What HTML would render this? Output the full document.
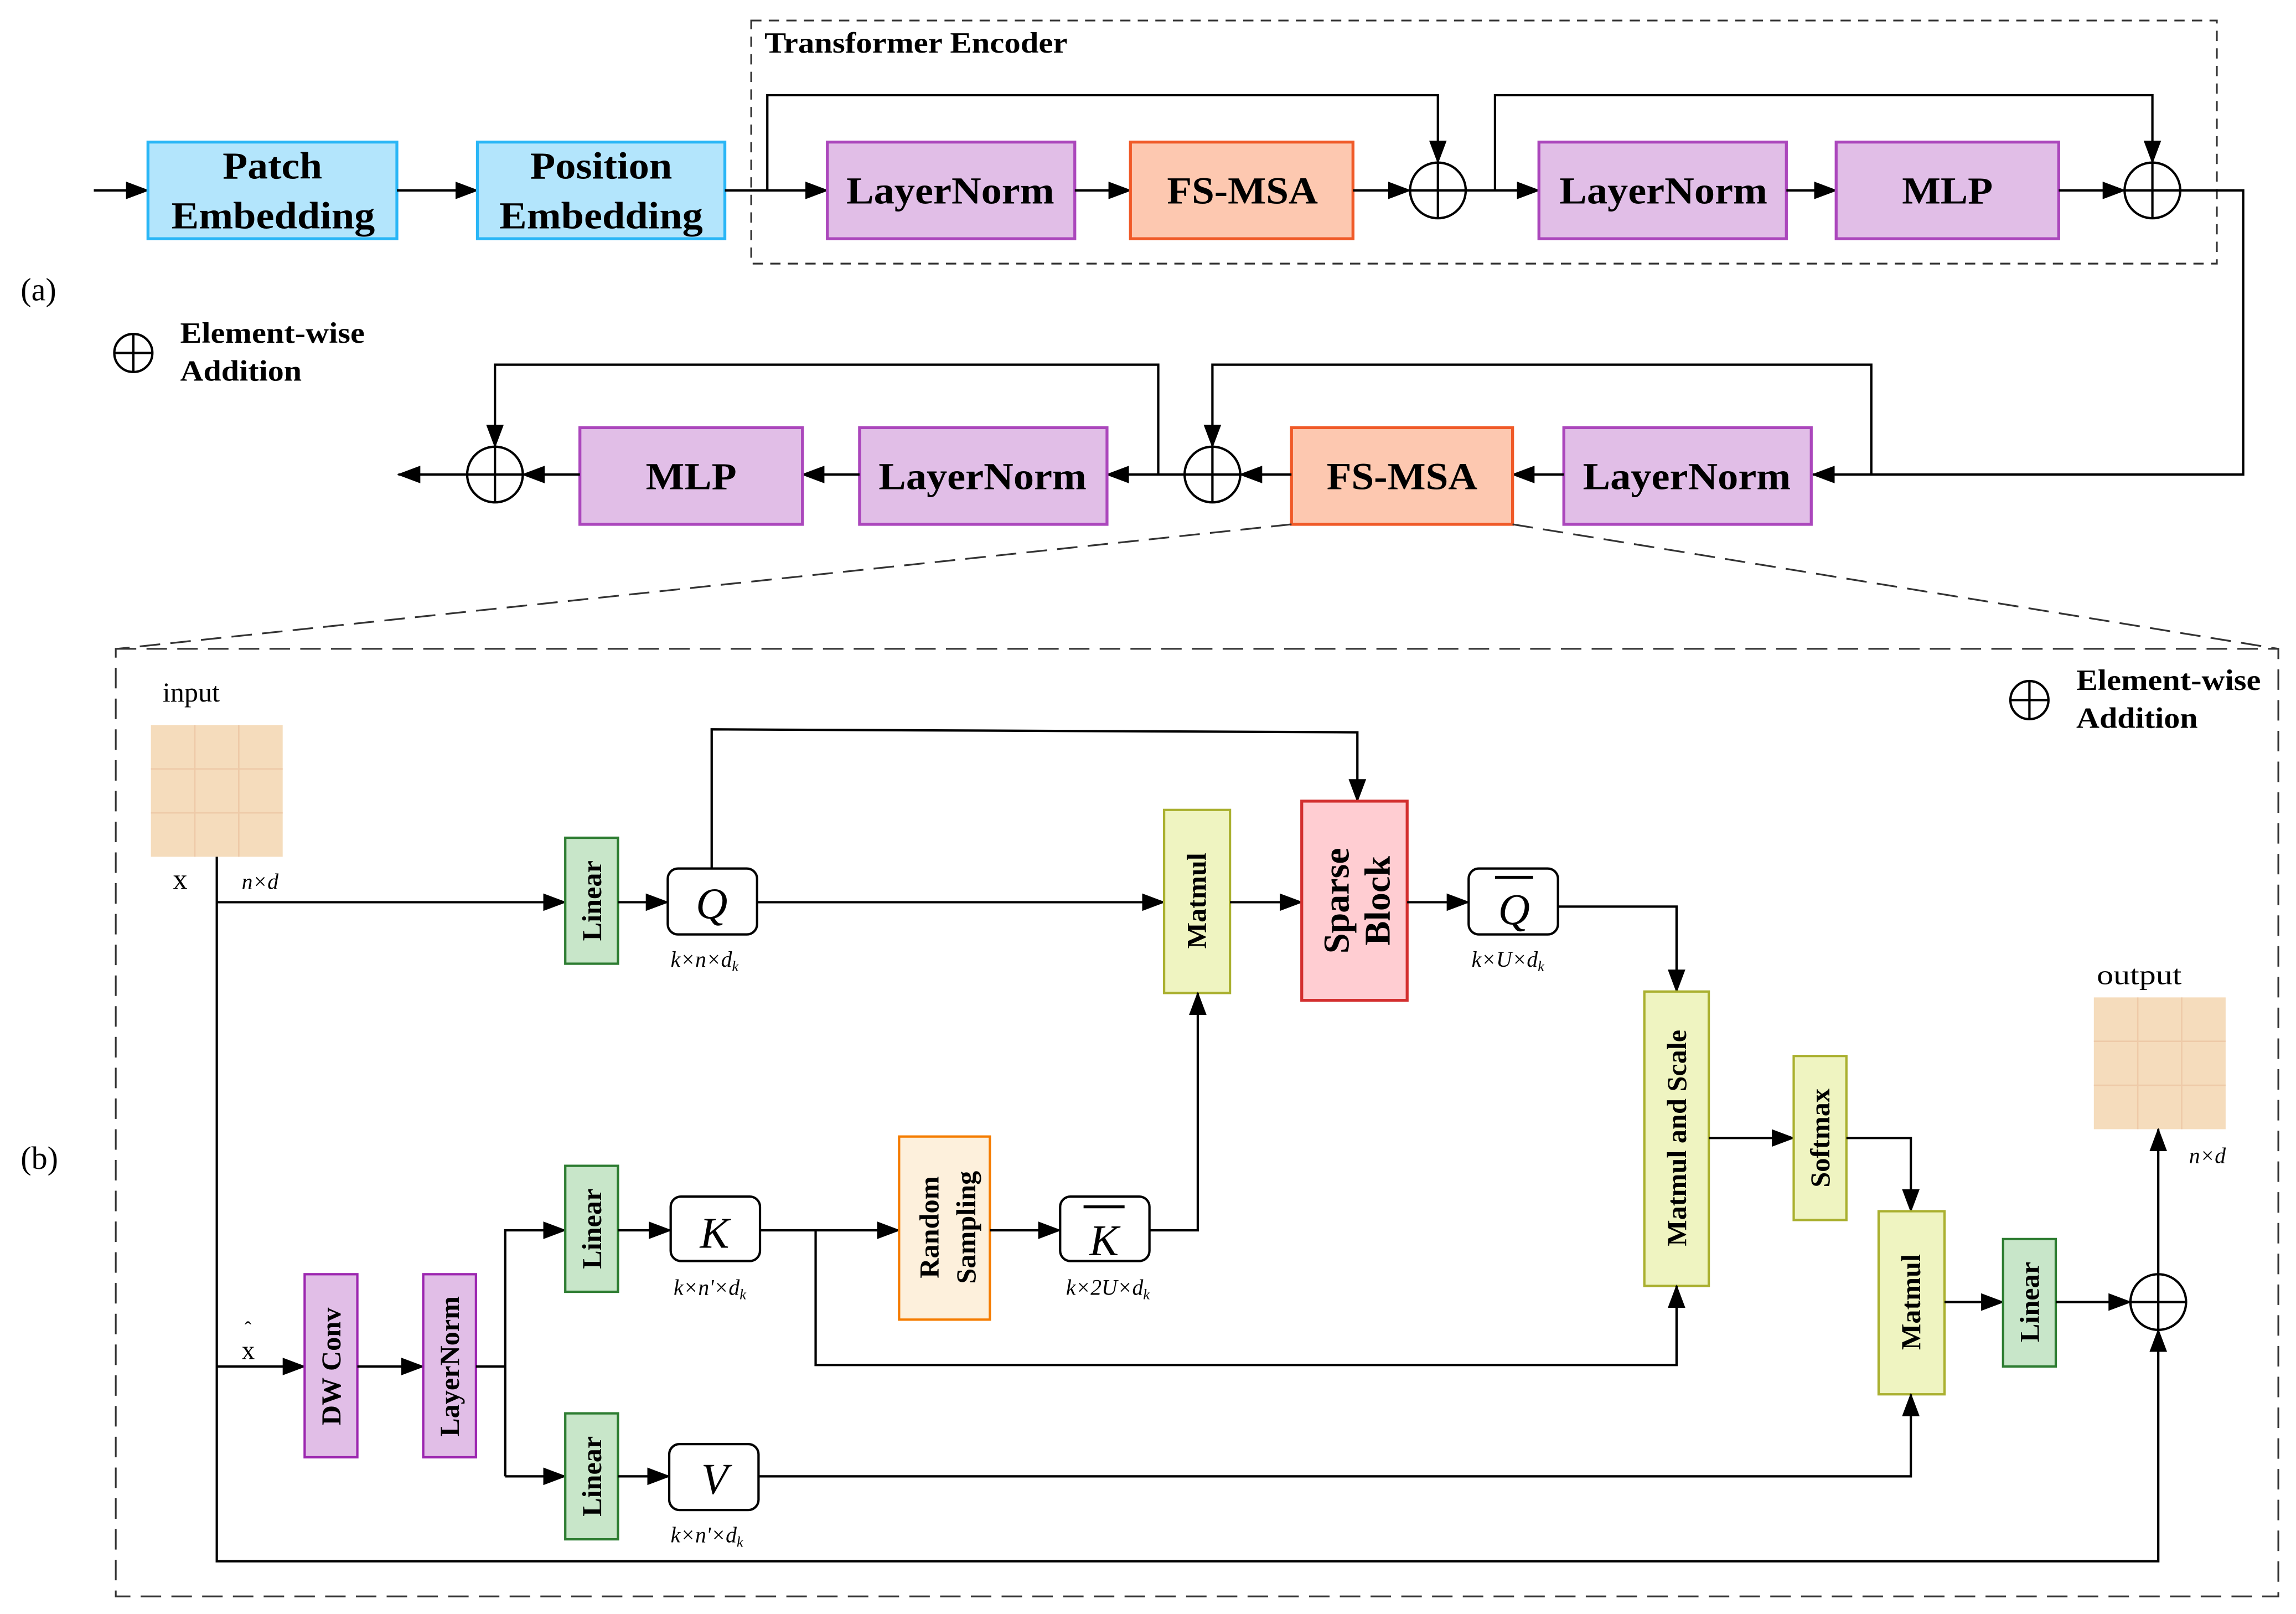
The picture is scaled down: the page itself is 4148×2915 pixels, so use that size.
<!DOCTYPE html>
<html><head><meta charset="utf-8"><style>
html,body{margin:0;padding:0;background:#fff;}
svg{display:block;}
text{font-family:"Liberation Serif",serif;fill:#000;}
.b{font-weight:bold;}
.t{font-size:26px;font-weight:bold;}
.v{font-size:19px;font-weight:bold;}
.i{font-style:italic;font-size:15px;}
.l{stroke:#000;stroke-width:1.6;fill:none;}
</style></head><body>
<svg width="4148" height="2915" viewBox="0 0 1568 1102" xmlns="http://www.w3.org/2000/svg">
<defs>
<marker id="a" markerUnits="userSpaceOnUse" markerWidth="16" markerHeight="12" refX="15" refY="6" orient="auto"><path d="M0,0 L16,6 L0,12 z" fill="#000"/></marker>
</defs>
<rect width="1568" height="1102" fill="#fff"/>

<!-- (a) -->
<rect x="513" y="14" width="1001" height="166" fill="none" stroke="#333" stroke-width="1.2" stroke-dasharray="7,5"/>
<text x="522" y="36" class="b" font-size="20" textLength="207" lengthAdjust="spacingAndGlyphs">Transformer Encoder</text>
<text x="14" y="205" font-size="22">(a)</text>

<line class="l" x1="64" y1="130" x2="101" y2="130" marker-end="url(#a)"/>
<rect x="101" y="97" width="170" height="66" fill="#b3e5fc" stroke="#29b6f6" stroke-width="2"/>
<text x="152" y="122" class="t" textLength="68" lengthAdjust="spacingAndGlyphs">Patch</text>
<text x="117" y="156" class="t" textLength="139" lengthAdjust="spacingAndGlyphs">Embedding</text>
<line class="l" x1="271" y1="130" x2="326" y2="130" marker-end="url(#a)"/>
<rect x="326" y="97" width="169" height="66" fill="#b3e5fc" stroke="#29b6f6" stroke-width="2"/>
<text x="362" y="122" class="t" textLength="97" lengthAdjust="spacingAndGlyphs">Position</text>
<text x="341" y="156" class="t" textLength="139" lengthAdjust="spacingAndGlyphs">Embedding</text>
<line class="l" x1="495" y1="130" x2="565" y2="130" marker-end="url(#a)"/>
<polyline class="l" points="524,130 524,65 982,65 982,111" marker-end="url(#a)"/>
<rect x="565" y="97" width="169" height="66" fill="#e1bee7" stroke="#ab47bc" stroke-width="2"/>
<text x="578" y="139" class="t" textLength="142" lengthAdjust="spacingAndGlyphs">LayerNorm</text>
<line class="l" x1="734" y1="130" x2="772" y2="130" marker-end="url(#a)"/>
<rect x="772" y="97" width="152" height="66" fill="#fdc8b0" stroke="#f05a28" stroke-width="2"/>
<text x="797" y="139" class="t" textLength="103" lengthAdjust="spacingAndGlyphs">FS-MSA</text>
<line class="l" x1="924" y1="130" x2="963" y2="130" marker-end="url(#a)"/>
<circle cx="982" cy="130" r="19" class="l" stroke-width="2.2"/>
<line class="l" x1="963" y1="130" x2="1001" y2="130" stroke-width="2"/><line class="l" x1="982" y1="111" x2="982" y2="149" stroke-width="2"/>
<line class="l" x1="1001" y1="130" x2="1051" y2="130" marker-end="url(#a)"/>
<polyline class="l" points="1021,130 1021,65 1470,65 1470,111" marker-end="url(#a)"/>
<rect x="1051" y="97" width="169" height="66" fill="#e1bee7" stroke="#ab47bc" stroke-width="2"/>
<text x="1065" y="139" class="t" textLength="142" lengthAdjust="spacingAndGlyphs">LayerNorm</text>
<line class="l" x1="1220" y1="130" x2="1254" y2="130" marker-end="url(#a)"/>
<rect x="1254" y="97" width="152" height="66" fill="#e1bee7" stroke="#ab47bc" stroke-width="2"/>
<text x="1299" y="139" class="t" textLength="62" lengthAdjust="spacingAndGlyphs">MLP</text>
<line class="l" x1="1406" y1="130" x2="1451" y2="130" marker-end="url(#a)"/>
<circle cx="1470" cy="130" r="19" class="l" stroke-width="2.2"/>
<line class="l" x1="1451" y1="130" x2="1489" y2="130" stroke-width="2"/><line class="l" x1="1470" y1="111" x2="1470" y2="149" stroke-width="2"/>
<polyline class="l" points="1489,130 1532,130 1532,324 1238,324" marker-end="url(#a)"/>

<!-- legend a -->
<circle cx="91" cy="241" r="13" class="l" stroke-width="2"/>
<line class="l" x1="78" y1="241" x2="104" y2="241" stroke-width="2"/><line class="l" x1="91" y1="228" x2="91" y2="254" stroke-width="2"/>
<text x="123" y="234" class="b" font-size="20" textLength="126" lengthAdjust="spacingAndGlyphs">Element-wise</text>
<text x="123" y="260" class="b" font-size="20" textLength="83" lengthAdjust="spacingAndGlyphs">Addition</text>

<!-- row 2 -->
<rect x="1068" y="292" width="169" height="66" fill="#e1bee7" stroke="#ab47bc" stroke-width="2"/>
<text x="1081" y="334" class="t" textLength="142" lengthAdjust="spacingAndGlyphs">LayerNorm</text>
<polyline class="l" points="1278,324 1278,249 828,249 828,305" marker-end="url(#a)"/>
<line class="l" x1="1068" y1="324" x2="1033" y2="324" marker-end="url(#a)"/>
<rect x="882" y="292" width="151" height="66" fill="#fdc8b0" stroke="#f05a28" stroke-width="2"/>
<text x="906" y="334" class="t" textLength="103" lengthAdjust="spacingAndGlyphs">FS-MSA</text>
<line class="l" x1="882" y1="324" x2="847" y2="324" marker-end="url(#a)"/>
<circle cx="828" cy="324" r="19" class="l" stroke-width="2.2"/>
<line class="l" x1="809" y1="324" x2="847" y2="324" stroke-width="2"/><line class="l" x1="828" y1="305" x2="828" y2="343" stroke-width="2"/>
<line class="l" x1="809" y1="324" x2="756" y2="324" marker-end="url(#a)"/>
<polyline class="l" points="791,324 791,249 338,249 338,305" marker-end="url(#a)"/>
<rect x="587" y="292" width="169" height="66" fill="#e1bee7" stroke="#ab47bc" stroke-width="2"/>
<text x="600" y="334" class="t" textLength="142" lengthAdjust="spacingAndGlyphs">LayerNorm</text>
<line class="l" x1="587" y1="324" x2="548" y2="324" marker-end="url(#a)"/>
<rect x="396" y="292" width="152" height="66" fill="#e1bee7" stroke="#ab47bc" stroke-width="2"/>
<text x="441" y="334" class="t" textLength="62" lengthAdjust="spacingAndGlyphs">MLP</text>
<line class="l" x1="396" y1="324" x2="357" y2="324" marker-end="url(#a)"/>
<circle cx="338" cy="324" r="19" class="l" stroke-width="2.2"/>
<line class="l" x1="319" y1="324" x2="357" y2="324" stroke-width="2"/><line class="l" x1="338" y1="305" x2="338" y2="343" stroke-width="2"/>
<line class="l" x1="319" y1="324" x2="272" y2="324" marker-end="url(#a)"/>

<!-- zoom dashed -->
<line x1="882" y1="358" x2="80" y2="443" stroke="#333" stroke-width="1.2" stroke-dasharray="14,7"/>
<line x1="1033" y1="358" x2="1556" y2="443" stroke="#333" stroke-width="1.2" stroke-dasharray="14,7"/>
<rect x="79" y="443" width="1477" height="647" fill="none" stroke="#333" stroke-width="1.2" stroke-dasharray="14,7"/>
<text x="14" y="798" font-size="22">(b)</text>

<!-- legend b -->
<circle cx="1386" cy="478" r="13" class="l" stroke-width="2"/>
<line class="l" x1="1373" y1="478" x2="1399" y2="478" stroke-width="2"/><line class="l" x1="1386" y1="465" x2="1386" y2="491" stroke-width="2"/>
<text x="1418" y="471" class="b" font-size="20" textLength="126" lengthAdjust="spacingAndGlyphs">Element-wise</text>
<text x="1418" y="497" class="b" font-size="20" textLength="83" lengthAdjust="spacingAndGlyphs">Addition</text>

<!-- input grid -->
<text x="111" y="479" font-size="19">input</text>
<rect x="103" y="495" width="90" height="90" fill="#f5dcbc"/>
<g stroke="#eecaa8" stroke-width="1"><line x1="133" y1="495" x2="133" y2="585"/><line x1="163" y1="495" x2="163" y2="585"/><line x1="103" y1="525" x2="193" y2="525"/><line x1="103" y1="555" x2="193" y2="555"/></g>
<text x="118" y="607" font-size="20">x</text>
<text x="165" y="607" class="i">n×d</text>

<!-- output grid -->
<text x="1432" y="672" font-size="19" textLength="58" lengthAdjust="spacingAndGlyphs">output</text>
<rect x="1430" y="681" width="90" height="90" fill="#f5dcbc"/>
<g stroke="#eecaa8" stroke-width="1"><line x1="1460" y1="681" x2="1460" y2="771"/><line x1="1490" y1="681" x2="1490" y2="771"/><line x1="1430" y1="711" x2="1520" y2="711"/><line x1="1430" y1="741" x2="1520" y2="741"/></g>
<text x="1495" y="794" class="i">n×d</text>

<!-- main lines -->
<polyline class="l" points="148,585 148,1066 1474,1066 1474,908" marker-end="url(#a)"/>
<line class="l" x1="148" y1="616" x2="386" y2="616" marker-end="url(#a)"/>
<line class="l" x1="148" y1="933" x2="208" y2="933" marker-end="url(#a)"/>
<text x="165" y="928" font-size="18">x</text><text x="167" y="912" font-size="14">ˆ</text>

<!-- Q branch -->
<rect x="386" y="572" width="36" height="86" fill="#c8e6c9" stroke="#2e7d32" stroke-width="1.6"/>
<text transform="translate(404,615) rotate(-90)" class="v" text-anchor="middle" dominant-baseline="central">Linear</text>
<line class="l" x1="422" y1="616" x2="456" y2="616" marker-end="url(#a)"/>
<rect x="456" y="593" width="61" height="45" rx="7" fill="#fff" stroke="#000" stroke-width="1.6"/>
<text x="486" y="627" font-size="30" font-style="italic" text-anchor="middle">Q</text>
<text x="458" y="660" class="i">k×n×d<tspan font-size="10" dy="3">k</tspan></text>
<polyline class="l" points="486,593 486,498 927,500 927,547" marker-end="url(#a)"/>
<line class="l" x1="517" y1="616" x2="795" y2="616" marker-end="url(#a)"/>
<rect x="795" y="553" width="45" height="125" fill="#eff4c1" stroke="#aab030" stroke-width="1.6"/>
<text transform="translate(817,615) rotate(-90)" class="v" text-anchor="middle" dominant-baseline="central">Matmul</text>
<line class="l" x1="840" y1="616" x2="889" y2="616" marker-end="url(#a)"/>
<rect x="889" y="547" width="72" height="136" fill="#ffcdd2" stroke="#d32f2f" stroke-width="2"/>
<text transform="translate(925,615) rotate(-90)" font-size="25" class="b" text-anchor="middle"><tspan x="0" dy="-4">Sparse</tspan><tspan x="0" dy="28">Block</tspan></text>
<line class="l" x1="961" y1="616" x2="1003" y2="616" marker-end="url(#a)"/>
<rect x="1003" y="593" width="61" height="45" rx="7" fill="#fff" stroke="#000" stroke-width="1.6"/>
<text x="1034" y="631" font-size="30" font-style="italic" text-anchor="middle">Q</text>
<line x1="1021" y1="599" x2="1047" y2="599" stroke="#000" stroke-width="2"/>
<text x="1005" y="660" class="i">k×U×d<tspan font-size="10" dy="3">k</tspan></text>
<polyline class="l" points="1064,619 1145,619 1145,677" marker-end="url(#a)"/>
<rect x="1123" y="677" width="44" height="201" fill="#eff4c1" stroke="#aab030" stroke-width="1.6"/>
<text transform="translate(1145,777) rotate(-90)" class="v" text-anchor="middle" dominant-baseline="central">Matmul and Scale</text>
<line class="l" x1="1167" y1="777" x2="1225" y2="777" marker-end="url(#a)"/>
<rect x="1225" y="721" width="36" height="112" fill="#eff4c1" stroke="#aab030" stroke-width="1.6"/>
<text transform="translate(1243,777) rotate(-90)" class="v" text-anchor="middle" dominant-baseline="central">Softmax</text>
<polyline class="l" points="1261,777 1305,777 1305,827" marker-end="url(#a)"/>
<rect x="1283" y="827" width="45" height="125" fill="#eff4c1" stroke="#aab030" stroke-width="1.6"/>
<text transform="translate(1305,889) rotate(-90)" class="v" text-anchor="middle" dominant-baseline="central">Matmul</text>
<line class="l" x1="1328" y1="889" x2="1368" y2="889" marker-end="url(#a)"/>
<rect x="1368" y="846" width="36" height="87" fill="#c8e6c9" stroke="#2e7d32" stroke-width="1.6"/>
<text transform="translate(1386,889) rotate(-90)" class="v" text-anchor="middle" dominant-baseline="central">Linear</text>
<line class="l" x1="1404" y1="889" x2="1455" y2="889" marker-end="url(#a)"/>
<circle cx="1474" cy="889" r="19" class="l" stroke-width="2.2"/>
<line class="l" x1="1455" y1="889" x2="1493" y2="889" stroke-width="2"/><line class="l" x1="1474" y1="870" x2="1474" y2="908" stroke-width="2"/>
<line class="l" x1="1474" y1="870" x2="1474" y2="771" marker-end="url(#a)"/>

<!-- lower branch -->
<rect x="208" y="870" width="36" height="125" fill="#e1bee7" stroke="#9c27b0" stroke-width="1.6"/>
<text transform="translate(226,933) rotate(-90)" class="v" text-anchor="middle" dominant-baseline="central">DW Conv</text>
<line class="l" x1="244" y1="933" x2="289" y2="933" marker-end="url(#a)"/>
<rect x="289" y="870" width="36" height="125" fill="#e1bee7" stroke="#9c27b0" stroke-width="1.6"/>
<text transform="translate(307,933) rotate(-90)" class="v" text-anchor="middle" dominant-baseline="central">LayerNorm</text>
<polyline class="l" points="325,933 345,933"/>
<polyline class="l" points="345,1008 345,840 386,840" marker-end="url(#a)"/>
<line class="l" x1="345" y1="1008" x2="386" y2="1008" marker-end="url(#a)"/>
<rect x="386" y="796" width="36" height="86" fill="#c8e6c9" stroke="#2e7d32" stroke-width="1.6"/>
<text transform="translate(404,839) rotate(-90)" class="v" text-anchor="middle" dominant-baseline="central">Linear</text>
<rect x="386" y="965" width="36" height="86" fill="#c8e6c9" stroke="#2e7d32" stroke-width="1.6"/>
<text transform="translate(404,1008) rotate(-90)" class="v" text-anchor="middle" dominant-baseline="central">Linear</text>
<line class="l" x1="422" y1="840" x2="458" y2="840" marker-end="url(#a)"/>
<line class="l" x1="422" y1="1008" x2="457" y2="1008" marker-end="url(#a)"/>
<rect x="458" y="817" width="61" height="44" rx="7" fill="#fff" stroke="#000" stroke-width="1.6"/>
<text x="488" y="852" font-size="30" font-style="italic" text-anchor="middle">K</text>
<text x="460" y="884" class="i">k×n'×d<tspan font-size="10" dy="3">k</tspan></text>
<rect x="457" y="986" width="61" height="45" rx="7" fill="#fff" stroke="#000" stroke-width="1.6"/>
<text x="488" y="1020" font-size="30" font-style="italic" text-anchor="middle">V</text>
<text x="458" y="1053" class="i">k×n'×d<tspan font-size="10" dy="3">k</tspan></text>
<line class="l" x1="519" y1="840" x2="614" y2="840" marker-end="url(#a)"/>
<polyline class="l" points="557,840 557,932 1145,932 1145,878" marker-end="url(#a)"/>
<rect x="614" y="776" width="62" height="125" fill="#fdf0dc" stroke="#f57c00" stroke-width="1.6"/>
<text transform="translate(645,838) rotate(-90)" class="v" text-anchor="middle"><tspan x="0" dy="-4">Random</tspan><tspan x="0" dy="25">Sampling</tspan></text>
<line class="l" x1="676" y1="840" x2="724" y2="840" marker-end="url(#a)"/>
<rect x="724" y="817" width="61" height="44" rx="7" fill="#fff" stroke="#000" stroke-width="1.6"/>
<text x="754" y="857" font-size="30" font-style="italic" text-anchor="middle">K</text>
<line x1="740" y1="824" x2="768" y2="824" stroke="#000" stroke-width="2"/>
<text x="728" y="884" class="i">k×2U×d<tspan font-size="10" dy="3">k</tspan></text>
<polyline class="l" points="785,840 818,840 818,678" marker-end="url(#a)"/>
<polyline class="l" points="518,1008 1305,1008 1305,952" marker-end="url(#a)"/>
</svg>
</body></html>
